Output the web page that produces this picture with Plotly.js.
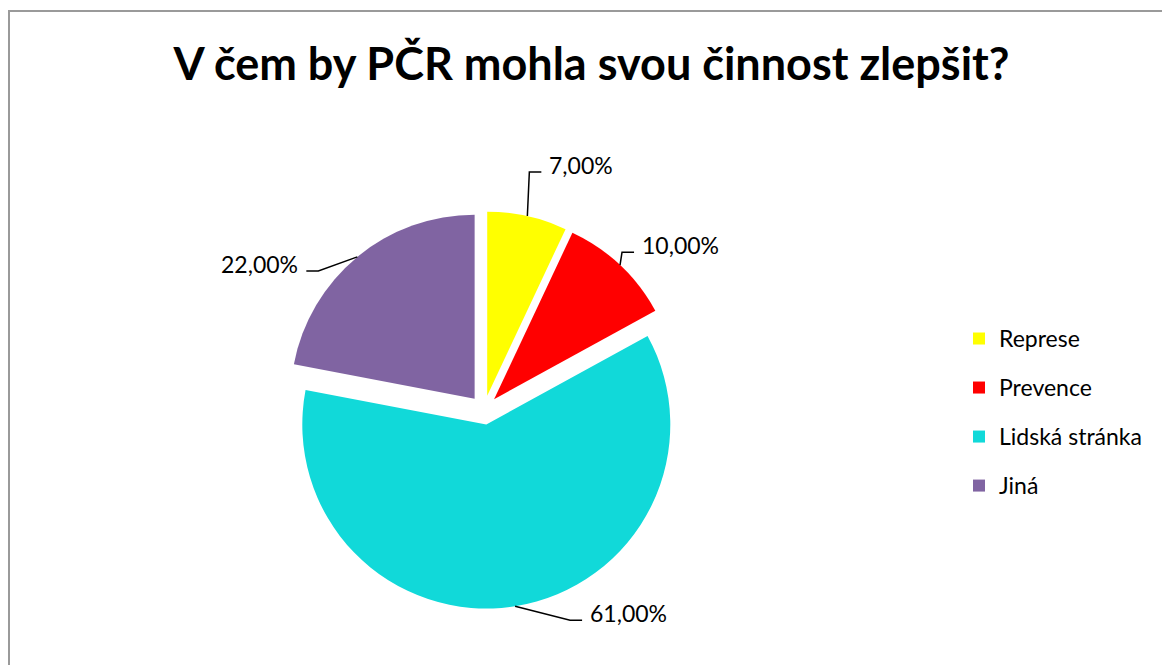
<!DOCTYPE html>
<html>
<head>
<meta charset="utf-8">
<script src="https://cdn.plot.ly/plotly-3.0.1.min.js"></script>
<style>html,body{margin:0;padding:0;background:#fff;}#chart{width:1162px;height:665px;}</style>
</head>
<body>
<div id="chart"></div>
<script>
// ---- data ----
var categories = ['Represe', 'Prevence', 'Lidská stránka', 'Jiná'];
var values = [7, 10, 61, 22];
var colors = ['#FFFF00', '#FF0000', '#11D9D9', '#8064A2'];
var chartTitle = 'V čem by PČR mohla svou činnost zlepšit?';

// ---- layout constants (pixels) ----
var W = 1162, H = 665;
var CX = 484, CY = 410, R = 184, PULL = 0.08;
// label anchor offsets from the slice edge point (px)
var labelDX = [20, 20, 73, -57];
var labelDY = [-51, -20, 7, 7];
var FONT = 'Lato, "Open Sans", sans-serif';

var half = R * (1 + PULL);
var domainX = [(CX - half) / W, (CX + half) / W];
var domainY = [1 - (CY + half) / H, 1 - (CY - half) / H];

var total = values.reduce(function (a, b) { return a + b; }, 0);
var annotations = [];
var shapes = [];
var cum = 0;
function px2x(p) { return p / W; }
function px2y(p) { return 1 - p / H; }
values.forEach(function (v, i) {
  var th = 2 * Math.PI * (cum + v / 2) / total;
  cum += v;
  var sx = Math.sin(th), cy = -Math.cos(th);
  var pcx = CX + PULL * R * sx, pcy = CY + PULL * R * cy;
  var ex = pcx + R * sx, ey = pcy + R * cy;
  var tx = ex + labelDX[i], ty = ey + labelDY[i];
  var dir = labelDX[i] >= 0 ? 1 : -1;
  var endX = tx - dir * 6, lineY = ty + 7;
  var elbowX = endX - dir * 12;
  shapes.push({
    type: 'path', xref: 'paper', yref: 'paper',
    path: 'M' + px2x(ex) + ',' + px2y(ey) + ' L' + px2x(elbowX) + ',' + px2y(lineY) + ' L' + px2x(endX) + ',' + px2y(lineY),
    line: {color: '#000000', width: 1.5}
  });
  annotations.push({
    xref: 'paper', yref: 'paper', x: px2x(tx), y: px2y(ty),
    xanchor: dir > 0 ? 'left' : 'right', yanchor: 'middle',
    text: v.toFixed(2).replace('.', ',') + '%', showarrow: false,
    font: {family: FONT, size: 23, color: '#000000'}
  });
});

// chart border (gray frame, open to the right/bottom edges)
shapes.push({
  type: 'rect', xref: 'paper', yref: 'paper',
  x0: 9 / W, x1: 1.02, y0: -0.02, y1: 1 - 11 / H,
  line: {color: '#9A9A9A', width: 2}, fillcolor: 'rgba(0,0,0,0)'
});

var trace = {
  type: 'pie',
  labels: categories.map(function (c) { return '<span style="font-size:23px;baseline-shift:5px">' + c + '</span>'; }),
  values: values,
  marker: {colors: colors, line: {width: 0}},
  sort: false,
  direction: 'clockwise',
  rotation: 0,
  pull: PULL,
  textinfo: 'none',
  hoverinfo: 'label+percent',
  domain: {x: domainX, y: domainY}
};

var layout = {
  width: W, height: H,
  margin: {l: 0, r: 0, t: 0, b: 0},
  paper_bgcolor: '#ffffff',
  title: {
    text: '<b>' + chartTitle + '</b>',
    font: {family: FONT, size: 45, color: '#000000'},
    x: 0.509, xanchor: 'center', y: 1 - 64 / H, yanchor: 'middle', yref: 'container'
  },
  showlegend: true,
  legend: {
    x: 959 / W, xanchor: 'left', y: 1 - 309 / H, yanchor: 'top',
    font: {family: FONT, size: 35.4, color: '#000000'},
    bgcolor: 'rgba(0,0,0,0)', borderwidth: 0
  },
  annotations: annotations,
  shapes: shapes
};

Plotly.newPlot('chart', [trace], layout, {displayModeBar: false, staticPlot: true});
</script>
</body>
</html>
